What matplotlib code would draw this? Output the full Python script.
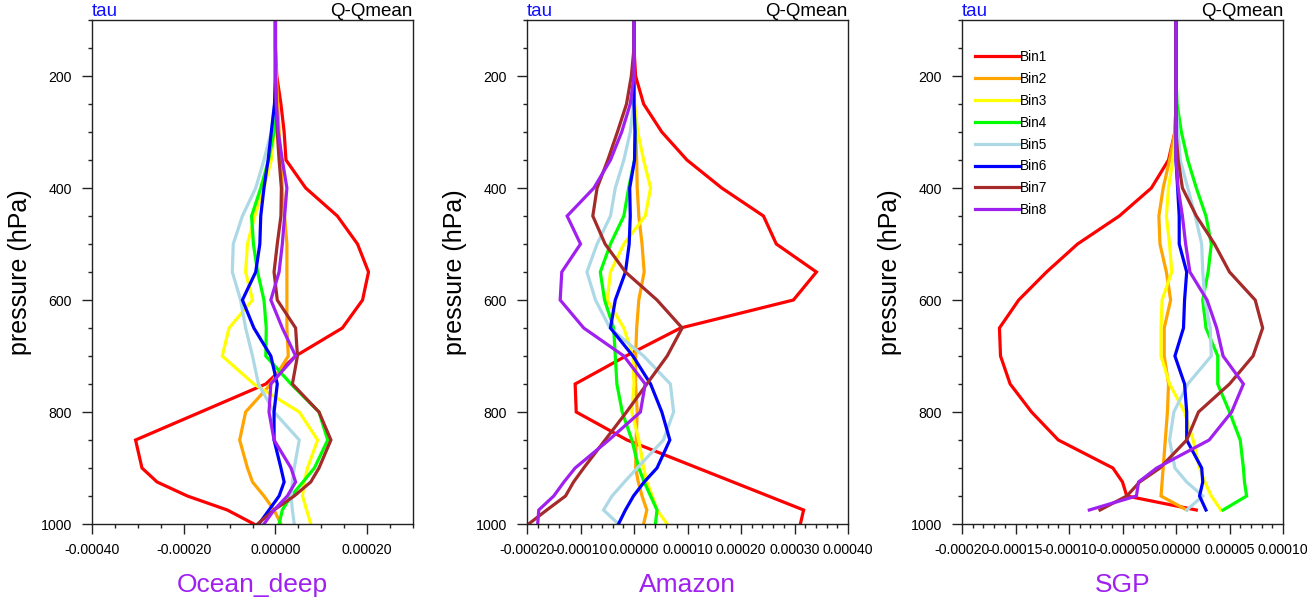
import numpy as np
import matplotlib
matplotlib.use('Agg')
import matplotlib.pyplot as plt
from matplotlib.ticker import MultipleLocator, FuncFormatter

plt.rcParams['font.family'] = ['Liberation Sans', 'DejaVu Sans']

# pressure levels (hPa)
levels = [100, 150, 200, 250, 300, 350, 400, 450, 500, 550, 600, 650, 700,
          750, 800, 850, 900, 925, 950, 975, 1000]

bin_names = ['Bin1', 'Bin2', 'Bin3', 'Bin4', 'Bin5', 'Bin6', 'Bin7', 'Bin8']
bin_colors = ['#FF0000', '#FFA500', '#FFFF00', '#00FF00', '#ADD8E6', '#0000FF',
              '#A52A2A', '#A020F0']
regions = ['Ocean_deep', 'Amazon', 'SGP']

# Q - Qmean, in units of 1e-5
unit = 1e-5
nan = np.nan

ocean_bin1 = [0, 0, 0.3, 1.2, 1.9, 2.3, 6.6, 13.5, 17.9, 20.3, 19.0, 14.6, 4.4, -2.1, -16.3, -30.5, -29.1, -25.8, -19.2, -10.5, -4.7]
ocean_bin2 = [0, 0, 0.2, 0.5, 0.8, 1.2, 1.5, 2.0, 2.5, 2.5, 2.5, 2.5, 2.8, -1.0, -6.5, -7.8, -6.1, -5.0, -2.5, -0.3, 1.2]
ocean_bin3 = [0, 0, 0, 0, -0.3, -0.9, -2.5, -4.5, -6.1, -6.5, -5.0, -10.1, -11.6, -4.7, 5.2, 9.2, 7.0, 6.3, 5.9, 6.8, 7.7]
ocean_bin4 = [0, 0, 0, -0.1, -0.3, -1.5, -3.2, -5.2, -4.8, -3.9, -2.5, -2.0, -2.1, 3.4, 9.5, 11.4, 8.5, 6.0, 3.4, 1.5, 0.8]
ocean_bin5 = [0, 0, 0, -0.2, -0.9, -2.5, -4.3, -7.2, -9.2, -9.4, -7.6, -6.5, -5.0, -3.7, -0.3, 5.2, 4.1, 3.7, 3.4, 3.7, 4.1]
ocean_bin6 = [0, 0, 0, -0.2, -0.9, -1.6, -2.5, -3.2, -3.4, -4.3, -7.2, -4.7, -1.0, 0.4, -0.3, -0.3, 1.2, 1.9, 0.8, -1.4, -3.6]
ocean_bin7 = [0, 0, 0, 0.2, 0.4, 0.8, 1.3, 1.2, 0.4, -0.3, 0.4, 4.4, 4.8, 3.7, 9.5, 12.1, 9.5, 7.7, 4.1, -0.3, -3.9]
ocean_bin8 = [0, 0, 0, 0.2, 0.6, 1.5, 2.5, 2.0, 1.5, 0.8, -1.0, 1.5, 4.4, -1.0, -1.4, -0.3, 3.4, 4.4, 2.6, -0.3, -2.5]

amazon_bin1 = [0, 0, 0.3, 1.8, 5.2, 9.9, 16.4, 24.2, 26.6, 34.1, 29.8, 8.7, -1.5, -11.0, -10.8, -1.3, 11.9, 18.5, 25.1, 31.7, 31.1]
amazon_bin2 = [0, 0, 0, 0.1, 0.3, 0.5, 0.6, 0.9, 1.5, 1.9, 0.9, 0.5, 0.3, 0.3, 0.6, 0.4, 0.3, 0.8, 1.5, 2.4, 1.8]
amazon_bin3 = [0, 0, 0, 0.1, 0.7, 1.8, 3.1, 2.1, -1.9, -4.4, -5.0, -1.9, -0.2, 0, -0.4, 0.9, 1.8, 2.4, 3.4, 4.3, 6.2]
amazon_bin4 = [0, 0, 0, 0, 0.2, 0.1, -1.0, -1.9, -4.4, -6.3, -5.5, -3.8, -3.5, -3.2, -2.2, -0.4, 0.9, 1.9, 3.1, 4.3, 4.0]
amazon_bin5 = [0, 0, 0, -0.1, -0.7, -1.9, -3.5, -4.4, -6.9, -8.8, -7.2, -4.5, 1.8, 6.8, 7.4, 5.5, 0.6, -1.8, -4.1, -5.7, -2.9]
amazon_bin6 = [0, 0, 0, 0, 0.2, 0.1, -0.8, -0.7, -0.9, -1.6, -3.5, -4.4, -0.2, 3.1, 5.2, 6.7, 4.3, 1.9, -0.1, -1.6, -2.9]
amazon_bin7 = [0, 0, -0.5, -1.4, -3.1, -4.9, -6.9, -7.7, -5.4, -1.6, 4.3, 9.0, 6.2, 2.4, -1.4, -5.4, -9.4, -11.3, -12.8, -16.3, -19.7]
amazon_bin8 = [0, 0, 0, -0.7, -2.3, -4.4, -7.5, -12.5, -10.0, -13.5, -13.8, -9.4, -1.9, 2.1, 1.2, -4.7, -11.0, -13.1, -15.0, -17.8, -18.0]

sgp_bin1 = [0, 0, 0, 0, -0.1, -0.7, -2.3, -5.3, -9.2, -12.1, -14.7, -16.5, -16.4, -15.5, -13.5, -11.0, -5.9, -5.0, -4.6, 1.9, nan]
sgp_bin2 = [0, 0, 0, 0, -0.1, -0.6, -1.2, -1.6, -1.5, -0.9, -0.5, -1.1, -1.1, -0.7, -0.8, -1.0, -1.2, -1.3, -1.4, 1.0, nan]
sgp_bin3 = [0, 0, 0, 0, 0, -0.3, -0.7, -0.9, -0.6, -0.4, -1.3, -1.4, -1.4, -0.6, 0.8, 1.6, 2.2, 2.7, 3.3, 4.2, nan]
sgp_bin4 = [0, 0, 0, 0.1, 0.5, 1.1, 1.9, 2.8, 3.3, 3.0, 2.5, 2.8, 3.9, 3.9, 5.0, 6.0, 6.3, 6.4, 6.6, 4.4, nan]
sgp_bin5 = [0, 0, 0, 0, 0.2, 0.4, 1.1, 1.8, 2.4, 2.5, 2.7, 3.2, 3.3, 1.1, -0.2, -0.6, -0.1, 1.0, 2.5, 1.0, nan]
sgp_bin6 = [0, 0, 0, 0, 0, 0, 0.15, 0.3, 0.3, 1.0, 0.8, 0.7, -0.1, 0.8, 1.0, 1.0, 2.4, 2.5, 2.2, 2.8, nan]
sgp_bin7 = [0, 0, 0, 0, 0, 0.2, 0.6, 1.9, 3.6, 5.0, 7.4, 8.1, 7.2, 5.0, 2.1, 1.0, -1.5, -3.4, -4.6, -7.1, nan]
sgp_bin8 = [0, 0, 0, 0, 0, 0, 0.2, 0.6, 0.9, 1.3, 2.9, 3.8, 4.4, 6.3, 5.2, 3.1, -1.8, -3.5, -3.7, -8.1, nan]

ocean = [ocean_bin1, ocean_bin2, ocean_bin3, ocean_bin4, ocean_bin5, ocean_bin6, ocean_bin7, ocean_bin8]
amazon = [amazon_bin1, amazon_bin2, amazon_bin3, amazon_bin4, amazon_bin5, amazon_bin6, amazon_bin7, amazon_bin8]
sgp = [sgp_bin1, sgp_bin2, sgp_bin3, sgp_bin4, sgp_bin5, sgp_bin6, sgp_bin7, sgp_bin8]

# x axis settings per panel: limits, major step, minor step
xlims = [(-0.0004, 0.0003), (-0.0002, 0.0004), (-0.0002, 0.0001)]
xmajor = [0.0002, 0.0001, 0.00005]
xminor = [0.00005, 0.00002, 0.00001]
lefts = [92, 527, 962]


def fmt(v, pos):
    if abs(v) < 1e-12:
        v = 0.0
    return '%.5f' % v


W, H = 1307, 616
fig = plt.figure(figsize=(W / 100, H / 100), dpi=100)

for i, data in enumerate([ocean, amazon, sgp]):
    ax = fig.add_axes([lefts[i] / W, (H - 524) / H, 321 / W, 504 / H])
    for vals, c, name in zip(data, bin_colors, bin_names):
        ax.plot(np.array(vals) * unit, levels, color=c, lw=2.3, label=name,
                solid_joinstyle='miter')
    ax.set_ylim(1000, 100)
    ax.set_xlim(*xlims[i])
    ax.yaxis.set_major_locator(MultipleLocator(200))
    ax.yaxis.set_minor_locator(MultipleLocator(50))
    ax.xaxis.set_major_locator(MultipleLocator(xmajor[i]))
    ax.xaxis.set_minor_locator(MultipleLocator(xminor[i]))
    ax.xaxis.set_major_formatter(FuncFormatter(fmt))
    ax.tick_params(which='major', direction='out', length=7.5, width=1.0,
                   labelsize=10.2, color='#222222')
    ax.tick_params(axis='x', which='major', pad=6)
    ax.tick_params(axis='y', which='major', pad=7)
    ax.tick_params(which='minor', direction='out', length=3, width=1.0,
                   color='#222222')
    ax.tick_params(top=False, right=False, which='both')
    for s in ax.spines.values():
        s.set_linewidth(1.0)
        s.set_color('#222222')
    ax.set_title('tau', loc='left', color='#1010FF', fontsize=13.5, pad=2)
    ax.set_title('Q-Qmean', loc='right', color='black', fontsize=13.5, pad=2)
    ax.set_ylabel('pressure (hPa)', fontsize=18, labelpad=6)
    ax.set_xlabel(regions[i], fontsize=19, color='#A020F0', labelpad=12)
    if i == 2:
        ax.legend(loc='upper left', bbox_to_anchor=(0.04, 0.94), frameon=False,
                  fontsize=9.8, handlelength=3.3, handletextpad=0.0,
                  labelspacing=0.575, borderpad=0, borderaxespad=0)

fig.savefig('out.png', dpi=100)
